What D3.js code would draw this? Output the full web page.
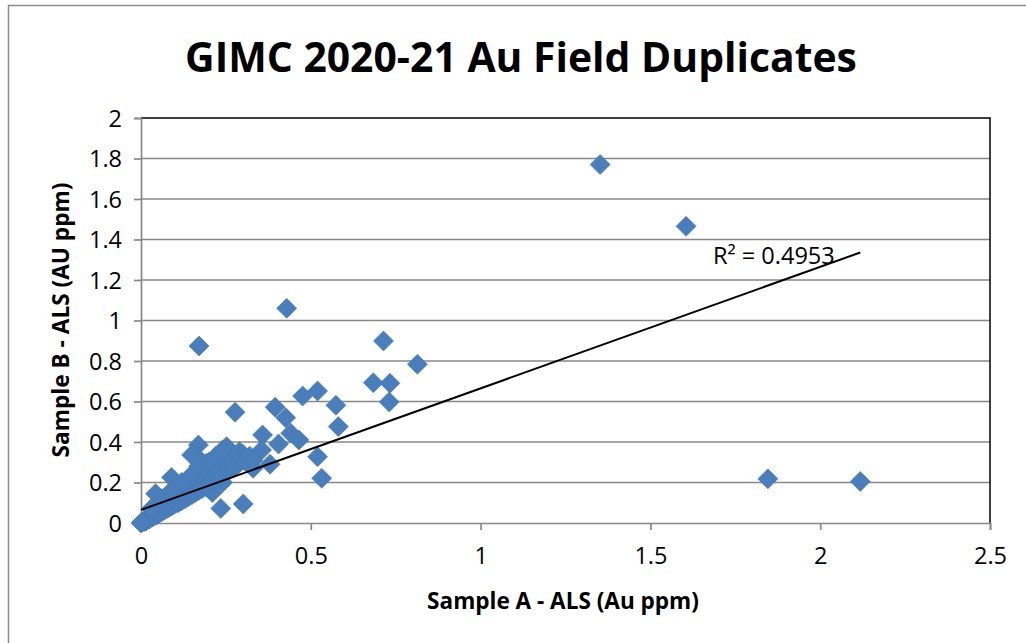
<!DOCTYPE html>
<html>
<head>
<meta charset="utf-8">
<script src="https://cdn.jsdelivr.net/npm/d3@7"></script>
<style>
  html, body { margin: 0; padding: 0; background: #fff; }
  svg { display: block; }
  text { font-family: "Open Sans", "Noto Sans", sans-serif; fill: #000; }
</style>
</head>
<body>
<svg id="chart" width="1026" height="643"></svg>
<script>
// ---------------- DATA ----------------
const chartTitle = "GIMC 2020-21 Au Field Duplicates";
const xAxisTitle = "Sample A - ALS (Au ppm)";
const yAxisTitle = "Sample B - ALS (AU ppm)";
const xTicks = [0, 0.5, 1, 1.5, 2, 2.5];
const yTicks = [0, 0.2, 0.4, 0.6, 0.8, 1, 1.2, 1.4, 1.6, 1.8, 2];

// Sample A (x) values, ppm
const sampleA = [
  1.352, 1.605, 1.846, 2.118,
  0.429, 0.171, 0.714, 0.814, 0.684, 0.733, 0.731, 0.476, 0.520, 0.574, 0.581,
  0.395, 0.277, 0.426, 0.358, 0.441, 0.465, 0.405, 0.355, 0.380, 0.520, 0.532,
  0.301, 0.235, 0.169, 0.252, 0.290, 0.320, 0.090, 0.043, 0.164, 0.149, 0.330,
  0.193, 0.223, 0.262, 0.300, 0.270, 0.210, 0.240,
  0.005, 0.010, 0.012, 0.015, 0.020, 0.020, 0.025, 0.030, 0.030, 0.035,
  0.040, 0.040, 0.045, 0.050, 0.050, 0.055, 0.060, 0.060, 0.065, 0.070,
  0.070, 0.075, 0.080, 0.080, 0.085, 0.090, 0.090, 0.095, 0.100, 0.100,
  0.105, 0.110, 0.110, 0.115, 0.120, 0.120, 0.125, 0.130, 0.130, 0.135,
  0.140, 0.140, 0.145, 0.150, 0.150, 0.155, 0.160, 0.160, 0.165, 0.170,
  0.170, 0.175, 0.180, 0.180, 0.185, 0.190, 0.190, 0.200, 0.200, 0.205,
  0.210, 0.210, 0.220, 0.220, 0.230, 0.230, 0.240, 0.240, 0.250, 0.250,
  0.260, 0.260, 0.270, 0.280, 0.290, 0.300, 0.310, 0.320, 0.330,
  0.030, 0.060, 0.090, 0.120, 0.150, 0.170, 0.200, 0.220, 0.240, 0.000, 0.002
];
// Sample B (y) values, ppm
const sampleB = [
  1.770, 1.465, 0.218, 0.205,
  1.060, 0.874, 0.899, 0.784, 0.693, 0.690, 0.598, 0.627, 0.652, 0.581, 0.476,
  0.572, 0.547, 0.520, 0.435, 0.443, 0.410, 0.390, 0.360, 0.290, 0.327, 0.221,
  0.094, 0.072, 0.385, 0.377, 0.352, 0.310, 0.225, 0.145, 0.327, 0.336, 0.270,
  0.295, 0.327, 0.296, 0.340, 0.330, 0.150, 0.200,
  0.005, 0.008, 0.015, 0.010, 0.018, 0.025, 0.020, 0.028, 0.035, 0.030,
  0.040, 0.050, 0.038, 0.045, 0.060, 0.050, 0.055, 0.070, 0.060, 0.065,
  0.080, 0.070, 0.075, 0.095, 0.080, 0.085, 0.110, 0.090, 0.095, 0.120,
  0.100, 0.100, 0.130, 0.110, 0.110, 0.140, 0.120, 0.120, 0.155, 0.130,
  0.130, 0.170, 0.140, 0.140, 0.180, 0.150, 0.150, 0.200, 0.160, 0.160,
  0.210, 0.170, 0.170, 0.230, 0.180, 0.180, 0.240, 0.190, 0.250, 0.200,
  0.200, 0.270, 0.210, 0.280, 0.220, 0.300, 0.230, 0.270, 0.250, 0.310,
  0.260, 0.290, 0.270, 0.280, 0.300, 0.320, 0.300, 0.330, 0.310,
  0.070, 0.120, 0.160, 0.200, 0.240, 0.280, 0.300, 0.330, 0.360, 0.000, 0.004
];

// Linear trendline
const trendIntercept = [0.065];
const trendSlope = [0.600];
const rSquaredLabel = ["R² = 0.4953"];

// ---------------- LAYOUT ----------------
const svg = d3.select("#chart");
const plot = { left: 141, right: 990, top: 118, bottom: 523 };
const gridColor = "#878787";
const markerFill = "#4a7ebb";

const x = d3.scaleLinear().domain([0, 2.5]).range([plot.left, plot.right]);
const y = d3.scaleLinear().domain([0, 2]).range([plot.bottom, plot.top]);

// outer chart border (extends past the canvas on right / bottom)
svg.append("rect")
  .attr("x", 8.5).attr("y", 5.5).attr("width", 1040).attr("height", 660)
  .attr("fill", "#fff").attr("stroke", "#8c8c8c").attr("stroke-width", 1.5);

function fitText(sel, target) {
  const fs = parseFloat(sel.attr("font-size"));
  const w = sel.node().getComputedTextLength();
  sel.attr("font-size", (fs * target / w).toFixed(2));
}

// title
const title = svg.append("text")
  .attr("x", 521).attr("y", 72).attr("text-anchor", "middle")
  .attr("font-weight", "bold").attr("font-size", 40).text(chartTitle);
fitText(title, 672);

// horizontal gridlines
svg.append("g").selectAll("line").data(yTicks.filter(d => d > 0 && d < 2)).join("line")
  .attr("x1", plot.left).attr("x2", plot.right)
  .attr("y1", d => y(d)).attr("y2", d => y(d))
  .attr("stroke", gridColor).attr("stroke-width", 1.7);

// plot area border (top and right in black)
svg.append("path")
  .attr("d", `M${plot.left},${plot.top}H${plot.right}V${plot.bottom}`)
  .attr("fill", "none").attr("stroke", "#000").attr("stroke-width", 1.5);

// axes
const xAxis = d3.axisBottom(x).tickValues(xTicks).tickSize(7).tickPadding(17)
  .tickFormat(d => d3.format("")(d));
const yAxis = d3.axisLeft(y).tickValues(yTicks).tickSize(7).tickPadding(12)
  .tickFormat(d => d3.format("")(+d.toFixed(1)));

const gx = svg.append("g").attr("transform", `translate(0,${plot.bottom})`).call(xAxis);
const gy = svg.append("g").attr("transform", `translate(${plot.left},0)`).call(yAxis);
[gx, gy].forEach(g => {
  g.select(".domain").attr("stroke", gridColor).attr("stroke-width", 1.7);
  g.selectAll(".tick line").attr("stroke", gridColor).attr("stroke-width", 1.7);
  g.selectAll(".tick text").attr("font-family", '"Open Sans", sans-serif')
    .attr("font-size", 23.5).attr("fill", "#000");
});
gy.selectAll(".tick text").attr("dy", "0.36em");

// axis titles
const xt = svg.append("text")
  .attr("x", 563).attr("y", 609).attr("text-anchor", "middle")
  .attr("font-weight", "bold").attr("font-size", 20).text(xAxisTitle);
fitText(xt, 272);
const yt = svg.append("text")
  .attr("transform", "translate(69,320) rotate(-90)").attr("text-anchor", "middle")
  .attr("font-weight", "bold").attr("font-size", 20).text(yAxisTitle);
fitText(yt, 275);

// markers
const points = sampleA.map((a, i) => ({ a, b: sampleB[i] }));
const diamond = d3.symbol().type(d3.symbolSquare).size(200);
svg.append("g").selectAll("path").data(points).join("path")
  .attr("d", diamond)
  .attr("transform", d => `translate(${x(d.a)},${y(d.b)}) rotate(45)`)
  .attr("fill", markerFill).attr("stroke", "#4579b5").attr("stroke-width", 0.6);

// trendline
const xmax = d3.max(sampleA);
svg.append("line")
  .attr("x1", x(0)).attr("y1", y(trendIntercept[0]))
  .attr("x2", x(xmax)).attr("y2", y(trendIntercept[0] + trendSlope[0] * xmax))
  .attr("stroke", "#000").attr("stroke-width", 2);

// R² label
const rl = svg.append("text")
  .attr("x", x(1.684)).attr("y", 264).attr("font-size", 20).text(rSquaredLabel[0]);
fitText(rl, 122);
</script>
</body>
</html>
